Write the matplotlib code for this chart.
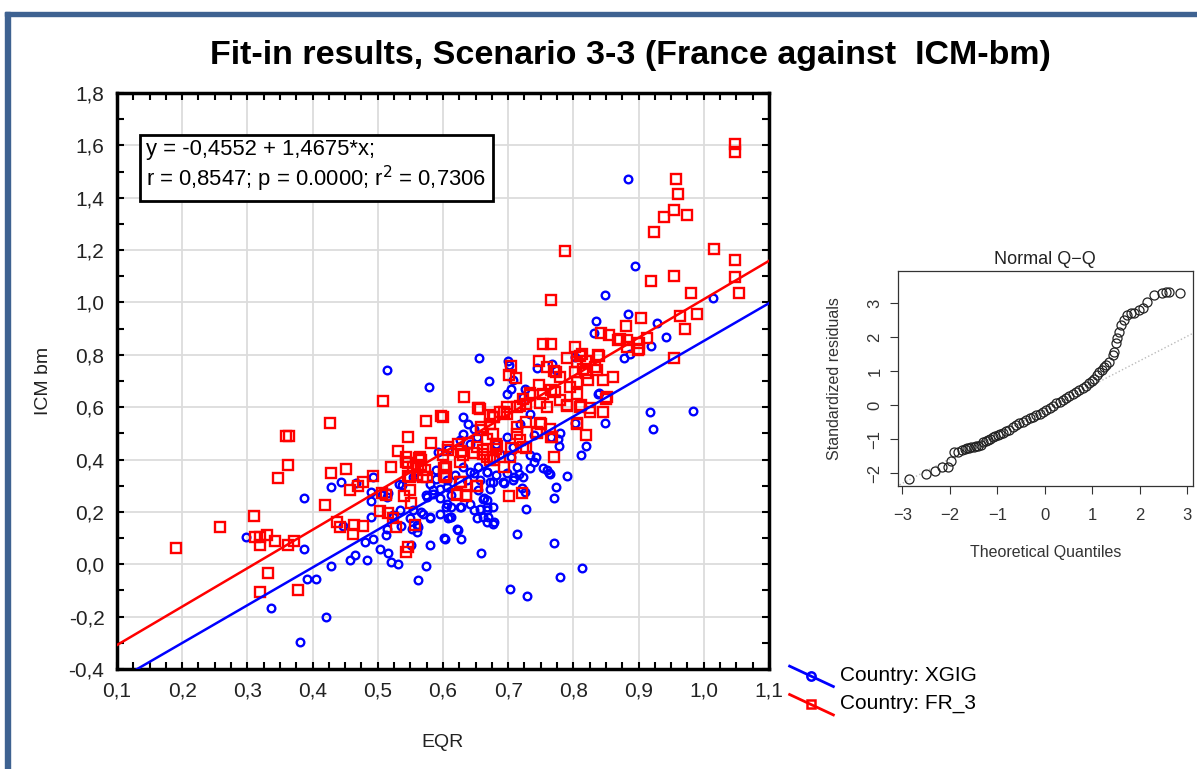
import numpy as np
import matplotlib.pyplot as plt
from matplotlib.lines import Line2D
from matplotlib.legend_handler import HandlerBase
from matplotlib.patches import Rectangle

# Country XGIG (blue circles): EQR vs ICM bm
xgig_eqr = [0.884, 0.894, 0.848, 1.014, 0.884, 0.929, 0.835, 0.831, 0.942, 0.919, 0.877, 0.887,
            0.655, 0.700, 0.671, 0.745, 0.768, 0.803, 0.702, 0.774, 0.708, 0.705, 0.698, 0.726,
            0.723, 0.838, 0.918, 0.984, 0.922, 0.848, 0.819, 0.812, 0.790, 0.774, 0.771, 0.771,
            0.727, 0.713, 0.659, 0.623, 0.627, 0.603, 0.814, 0.780, 0.703, 0.729, 0.678, 0.669,
            0.668, 0.647, 0.612, 0.612, 0.627, 0.694, 0.722, 0.734, 0.742, 0.759, 0.762, 0.778,
            0.780, 0.765, 0.803, 0.839, 0.709, 0.653, 0.663, 0.637, 0.647, 0.699, 0.606, 0.777,
            0.764, 0.754, 0.739, 0.733, 0.713, 0.716, 0.723, 0.708, 0.692, 0.677, 0.667, 0.672,
            0.662, 0.667, 0.662, 0.677, 0.726, 0.708, 0.705, 0.687, 0.682, 0.739, 0.718, 0.733,
            0.698, 0.631, 0.639, 0.647, 0.652, 0.631, 0.641, 0.626, 0.631, 0.641, 0.654, 0.667,
            0.657, 0.672, 0.682, 0.580, 0.590, 0.595, 0.606, 0.613, 0.585, 0.575, 0.606, 0.626,
            0.641, 0.657, 0.667, 0.677, 0.611, 0.595, 0.652, 0.667, 0.570, 0.580, 0.560, 0.552,
            0.534, 0.537, 0.514, 0.506, 0.593, 0.608, 0.621, 0.514, 0.554, 0.524, 0.298, 0.387,
            0.387, 0.391, 0.406, 0.336, 0.381, 0.421, 0.429, 0.429, 0.444, 0.447, 0.457, 0.465,
            0.467, 0.480, 0.484, 0.490, 0.490, 0.490, 0.493, 0.493, 0.503, 0.513, 0.516, 0.516,
            0.521, 0.523, 0.531, 0.533, 0.536, 0.549, 0.551, 0.561, 0.562, 0.560, 0.567, 0.574,
            0.579, 0.580, 0.580, 0.595, 0.602, 0.605, 0.607, 0.618, 0.589, 0.574, 0.584, 0.554,
            0.514]
xgig_icm = [1.470, 1.141, 1.027, 1.019, 0.957, 0.922, 0.931, 0.884, 0.868, 0.833, 0.787, 0.804,
            0.787, 0.778, 0.702, 0.750, 0.766, 0.791, 0.760, 0.741, 0.703, 0.671, 0.652, 0.671,
            0.639, 0.652, 0.581, 0.587, 0.516, 0.539, 0.453, 0.419, 0.339, 0.294, 0.252, 0.082,
            0.210, 0.116, 0.042, 0.131, 0.098, 0.098, -0.015, -0.047, -0.096, -0.121, 0.163, 0.182,
            0.208, 0.208, 0.180, 0.220, 0.220, 0.310, 0.290, 0.367, 0.411, 0.360, 0.348, 0.450,
            0.501, 0.488, 0.539, 0.654, 0.335, 0.284, 0.252, 0.322, 0.348, 0.348, 0.322, 0.480,
            0.346, 0.366, 0.391, 0.416, 0.372, 0.346, 0.333, 0.321, 0.314, 0.314, 0.353, 0.289,
            0.251, 0.219, 0.181, 0.155, 0.276, 0.448, 0.410, 0.423, 0.461, 0.493, 0.537, 0.576,
            0.486, 0.563, 0.537, 0.518, 0.486, 0.499, 0.461, 0.474, 0.372, 0.353, 0.372, 0.353,
            0.321, 0.314, 0.340, 0.308, 0.327, 0.289, 0.295, 0.264, 0.270, 0.257, 0.232, 0.219,
            0.232, 0.213, 0.245, 0.219, 0.181, 0.194, 0.175, 0.162, 0.194, 0.175, 0.149, 0.136,
            0.206, 0.302, 0.257, 0.264, 0.429, 0.442, 0.136, 0.136, 0.206, 0.187, 0.106, 0.252,
            0.057, -0.057, -0.057, -0.168, -0.296, -0.200, -0.006, 0.297, 0.316, 0.146, 0.017, 0.036,
            0.310, 0.087, 0.017, 0.278, 0.243, 0.182, 0.335, 0.096, 0.059, 0.112, 0.042, 0.271,
            0.010, 0.182, 0.000, 0.306, 0.148, 0.176, 0.074, -0.060, 0.144, 0.125, 0.201, -0.005,
            0.679, 0.074, 0.182, 0.252, 0.099, 0.217, 0.176, 0.341, 0.360, 0.265, 0.284, 0.335,
            0.741]

# Country FR_3 (red squares)
fr3_eqr = [0.190, 0.258, 0.310, 0.312, 0.319, 0.330, 0.319, 0.342, 0.332, 0.319, 0.347, 0.359,
           0.364, 0.363, 0.363, 0.371, 0.377, 0.419, 0.427, 0.429, 0.437, 0.442, 0.451, 0.457,
           0.470, 0.463, 0.462, 0.477, 0.478, 0.493, 0.503, 0.508, 0.507, 0.513, 0.516, 0.521,
           0.523, 0.528, 0.531, 0.544, 0.546, 0.547, 0.541, 0.549, 0.551, 0.544, 0.547, 0.557,
           0.550, 0.564, 0.567, 0.562, 0.569, 0.572, 0.574, 0.582, 0.597, 0.600, 0.602, 0.602,
           1.048, 1.048, 0.958, 0.961, 0.954, 0.939, 0.975, 0.923, 0.787, 1.016, 1.048, 0.919,
           0.954, 1.048, 1.054, 0.981, 0.765, 0.903, 0.964, 0.990, 0.971, 0.881, 0.954, 0.754,
           0.765, 0.803, 0.842, 0.854, 0.871, 0.883, 0.900, 0.913, 0.900, 0.882, 0.790, 0.810,
           0.839, 0.748, 0.704, 0.701, 0.760, 0.770, 0.819, 0.813, 0.805, 0.838, 0.833, 0.712,
           0.748, 0.774, 0.779, 0.802, 0.820, 0.805, 0.823, 0.845, 0.861, 0.795, 0.805, 0.850,
           0.846, 0.772, 0.754, 0.733, 0.723, 0.657, 0.698, 0.687, 0.672, 0.869, 0.899, 0.836,
           0.815, 0.632, 0.655, 0.600, 0.701, 0.722, 0.771, 0.819, 0.852, 0.604, 0.604, 0.627,
           0.622, 0.635, 0.651, 0.693, 0.704, 0.728, 0.718, 0.745, 0.765, 0.806, 0.683, 0.668,
           0.678, 0.647, 0.627, 0.607, 0.658, 0.678, 0.693, 0.718, 0.749, 0.780, 0.790, 0.811,
           0.826, 0.734, 0.765, 0.749, 0.728, 0.713, 0.767, 0.764, 0.751, 0.744, 0.723, 0.713,
           0.703, 0.672, 0.662, 0.682, 0.677, 0.659, 0.677, 0.698, 0.713, 0.728, 0.759, 0.790,
           0.810, 0.825, 0.805, 0.654, 0.608, 0.623, 0.639, 0.652, 0.544, 0.565, 0.567, 0.554,
           0.547, 0.560, 0.575, 0.603, 0.603, 0.626, 0.631, 0.626, 0.652, 0.621, 0.636, 0.672,
           0.682, 0.667, 0.662, 0.677]
fr3_icm = [0.064, 0.144, 0.185, 0.106, 0.106, 0.112, 0.074, 0.089, -0.032, -0.104, 0.331, 0.490,
           0.490, 0.380, 0.074, 0.090, -0.097, 0.227, 0.539, 0.348, 0.163, 0.144, 0.363, 0.282,
           0.299, 0.150, 0.116, 0.146, 0.316, 0.338, 0.204, 0.625, 0.271, 0.265, 0.195, 0.373,
           0.176, 0.144, 0.434, 0.411, 0.386, 0.485, 0.259, 0.284, 0.233, 0.048, 0.068, 0.150,
           0.335, 0.405, 0.399, 0.373, 0.335, 0.360, 0.549, 0.462, 0.567, 0.418, 0.367, 0.341,
           1.606, 1.575, 1.470, 1.414, 1.352, 1.326, 1.334, 1.269, 1.197, 1.205, 1.164, 1.084,
           1.101, 1.099, 1.036, 1.036, 1.011, 0.940, 0.949, 0.957, 0.898, 0.910, 0.787, 0.843,
           0.843, 0.829, 0.883, 0.874, 0.859, 0.855, 0.847, 0.864, 0.822, 0.829, 0.787, 0.794,
           0.795, 0.778, 0.757, 0.724, 0.753, 0.740, 0.778, 0.805, 0.773, 0.798, 0.754, 0.713,
           0.686, 0.735, 0.715, 0.735, 0.731, 0.696, 0.703, 0.703, 0.715, 0.677, 0.652, 0.633,
           0.582, 0.658, 0.652, 0.646, 0.633, 0.595, 0.601, 0.582, 0.569, 0.856, 0.820, 0.741,
           0.747, 0.638, 0.596, 0.564, 0.259, 0.274, 0.411, 0.492, 0.638, 0.371, 0.338, 0.316,
           0.269, 0.261, 0.299, 0.373, 0.443, 0.443, 0.475, 0.501, 0.488, 0.539, 0.450, 0.411,
           0.399, 0.424, 0.431, 0.437, 0.513, 0.564, 0.583, 0.603, 0.615, 0.628, 0.603, 0.609,
           0.596, 0.654, 0.666, 0.539, 0.545, 0.526, 0.486, 0.518, 0.537, 0.505, 0.448, 0.499,
           0.410, 0.397, 0.435, 0.442, 0.499, 0.524, 0.563, 0.576, 0.601, 0.614, 0.601, 0.607,
           0.601, 0.582, 0.537, 0.598, 0.448, 0.458, 0.463, 0.448, 0.391, 0.408, 0.378, 0.372,
           0.336, 0.340, 0.333, 0.366, 0.333, 0.391, 0.416, 0.314, 0.298, 0.264, 0.264, 0.537,
           0.461, 0.480, 0.423, 0.410]

# regression lines (intercept, slope)
fit_fr3 = (-0.4552, 1.4675)
fit_xgig = (-0.589, 1.442)

# Normal Q-Q of standardized residuals
qq_theoretical = [-2.86, -2.50, -2.31, -2.17, -2.05, -1.97, -1.92, -1.82, -1.74, -1.69, -1.64,
                  -1.60, -1.55, -1.50, -1.45, -1.40, -1.34, -1.31, -1.25, -1.20, -1.15, -1.10,
                  -1.05, -0.99, -0.94, -0.89, -0.82, -0.75, -0.68, -0.61, -0.54, -0.46, -0.39,
                  -0.32, -0.25, -0.18, -0.11, -0.04, 0.03, 0.10, 0.17, 0.24, 0.31, 0.38, 0.45,
                  0.52, 0.59, 0.66, 0.73, 0.80, 0.87, 0.94, 0.99, 1.04, 1.10, 1.15, 1.20, 1.25,
                  1.30, 1.36, 1.43, 1.46, 1.50, 1.53, 1.57, 1.60, 1.67, 1.74, 1.81, 1.88, 1.99,
                  2.06, 2.16, 2.30, 2.48, 2.55, 2.62, 2.86]
qq_residuals = [-2.15, -2.02, -1.92, -1.82, -1.82, -1.64, -1.38, -1.38, -1.31, -1.28, -1.26,
                -1.24, -1.22, -1.21, -1.20, -1.18, -1.17, -1.07, -1.05, -1.02, -0.98, -0.94,
                -0.91, -0.87, -0.84, -0.80, -0.76, -0.71, -0.65, -0.58, -0.53, -0.48, -0.43,
                -0.38, -0.33, -0.28, -0.24, -0.19, -0.14, -0.09, -0.01, 0.06, 0.11, 0.16, 0.22,
                0.27, 0.33, 0.40, 0.45, 0.50, 0.57, 0.65, 0.72, 0.79, 0.89, 0.99, 1.05, 1.14,
                1.20, 1.28, 1.48, 1.58, 1.82, 1.97, 2.17, 2.36, 2.51, 2.66, 2.71, 2.73, 2.80,
                2.85, 3.05, 3.25, 3.29, 3.34, 3.34, 3.31]
qq_ref = (-0.13, 0.72)

fig = plt.figure(figsize=(11.97, 7.69), dpi=100, facecolor='white')

# blue frame of the slide
frame_col = '#3e6291'
fig.patches.append(Rectangle((0.004, 0), 0.004, 0.985, transform=fig.transFigure,
                             color=frame_col, zorder=0))
fig.patches.append(Rectangle((0.004, 0.979), 0.996, 0.006, transform=fig.transFigure,
                             color=frame_col, zorder=0))

fig.text(0.527, 0.928, 'Fit-in results, Scenario 3-3 (France against  ICM-bm)',
         ha='center', va='center', fontsize=24.5, fontweight='bold',
         family=['Liberation Sans Narrow', 'Liberation Sans', 'DejaVu Sans'])

# main scatter
ax = fig.add_axes([0.0977, 0.130, 0.5447, 0.749])
ax.plot(xgig_eqr, xgig_icm, 'o', ms=5.5, mfc='none', mec='#0000ff', mew=1.7, zorder=3)
ax.plot(fr3_eqr, fr3_icm, 's', ms=6.5, mfc='none', mec='#ff0000', mew=1.7, zorder=4)

xl = np.array([0.1, 1.1])
ax.plot(xl, fit_xgig[0] + fit_xgig[1] * xl, color='#0000ff', lw=1.8, zorder=5)
ax.plot(xl, fit_fr3[0] + fit_fr3[1] * xl, color='#ff0000', lw=1.8, zorder=5)

ax.set_xlim(0.1, 1.1)
ax.set_ylim(-0.4, 1.8)
ax.set_xticks(np.arange(0.1, 1.101, 0.1))
ax.set_xticks(np.arange(0.1, 1.101, 0.025), minor=True)
ax.set_yticks(np.arange(-0.4, 1.801, 0.2))
ax.set_yticks(np.arange(-0.4, 1.801, 0.1), minor=True)
ax.set_xticklabels([f'{v:.1f}'.replace('.', ',') for v in np.arange(0.1, 1.101, 0.1)])
ax.set_yticklabels([f'{v:.1f}'.replace('.', ',').replace('-0,0', '0,0')
                    for v in np.arange(-0.4, 1.801, 0.2)])
ax.tick_params(which='both', direction='in', top=True, right=True, length=5, width=1.5,
               labelsize=15, pad=9, colors='black')
for lab in ax.get_xticklabels() + ax.get_yticklabels():
    lab.set_family('Liberation Sans')
    lab.set_color('#222222')
for sp in ax.spines.values():
    sp.set_linewidth(2.5)
ax.grid(True, which='major', color='#dcdcdc', lw=1.3)
ax.set_axisbelow(True)
ax.set_xlabel('EQR', fontsize=14, family='Liberation Sans', labelpad=24, color='#222222')
ax.set_ylabel('ICM bm', fontsize=14, family='Liberation Sans', labelpad=12, color='#222222')

ax.text(0.045, 0.921, 'y = -0,4552 + 1,4675*x;\nr = 0,8547; p = 0.0000; r$^2$ = 0,7306',
        transform=ax.transAxes, fontsize=15.8, family='Liberation Sans', va='top',
        linespacing=1.2, zorder=6,
        bbox=dict(boxstyle='square,pad=0.3', fc='white', ec='black', lw=2))


class DiagHandler(HandlerBase):
    def create_artists(self, legend, orig, xd, yd, width, height, fontsize, trans):
        c = orig.get_color()
        ln = Line2D([0, width], [height * 1.0, -height * 0.4], color=c, lw=2, transform=trans)
        mk = Line2D([width * 0.48], [height * 0.32], marker=orig.get_marker(), ls='none',
                    mfc='none', mec=c, mew=1.8, ms=6, transform=trans)
        return [ln, mk]


handles = [Line2D([], [], color='#0000ff', marker='o'), Line2D([], [], color='#ff0000', marker='s')]
fig.legend(handles, ['Country: XGIG', 'Country: FR_3'], loc='lower left',
           bbox_to_anchor=(0.644, 0.048), frameon=False, handlelength=2.1, handletextpad=0.3,
           labelspacing=0.45, prop={'family': 'Liberation Sans', 'size': 15},
           handler_map={Line2D: DiagHandler()})

# Normal Q-Q inset
qx = fig.add_axes([0.750, 0.368, 0.2465, 0.2796])
qx.plot(qq_theoretical, qq_residuals, 'o', ms=6.5, mfc='none', mec='#222222', mew=0.9)
tl = np.array([-3.2, 3.2])
qx.plot(tl, qq_ref[0] + qq_ref[1] * tl, color='#bbbbbb', lw=1, ls=':', zorder=1)
qx.set_xlim(-3.1, 3.12)
qx.set_ylim(-2.37, 3.95)
qx.set_xticks([-3, -2, -1, 0, 1, 2, 3])
qx.set_yticks([-2, -1, 0, 1, 2, 3])
qx.set_xticklabels(['\u22123', '\u22122', '\u22121', '0', '1', '2', '3'])
qx.set_yticklabels(['\u22122', '\u22121', '0', '1', '2', '3'], rotation=90, va='center')
qx.tick_params(direction='out', length=6, width=0.8, labelsize=12, pad=5, colors='#333333')
qx.tick_params(axis='x', pad=10)
for lab in qx.get_xticklabels() + qx.get_yticklabels():
    lab.set_family('Liberation Sans')
for sp in qx.spines.values():
    sp.set_linewidth(0.9)
    sp.set_color('#333333')
qx.set_title('Normal Q\u2212Q', fontsize=13, family='Liberation Sans', pad=5, color='#222222')
qx.set_xlabel('Theoretical Quantiles', fontsize=11.5, family='Liberation Sans', labelpad=16,
              color='#333333')
qx.set_ylabel('Standardized residuals', fontsize=11.5, family='Liberation Sans', labelpad=18,
              color='#333333')

fig.savefig('out.png', dpi=100, facecolor='white')
